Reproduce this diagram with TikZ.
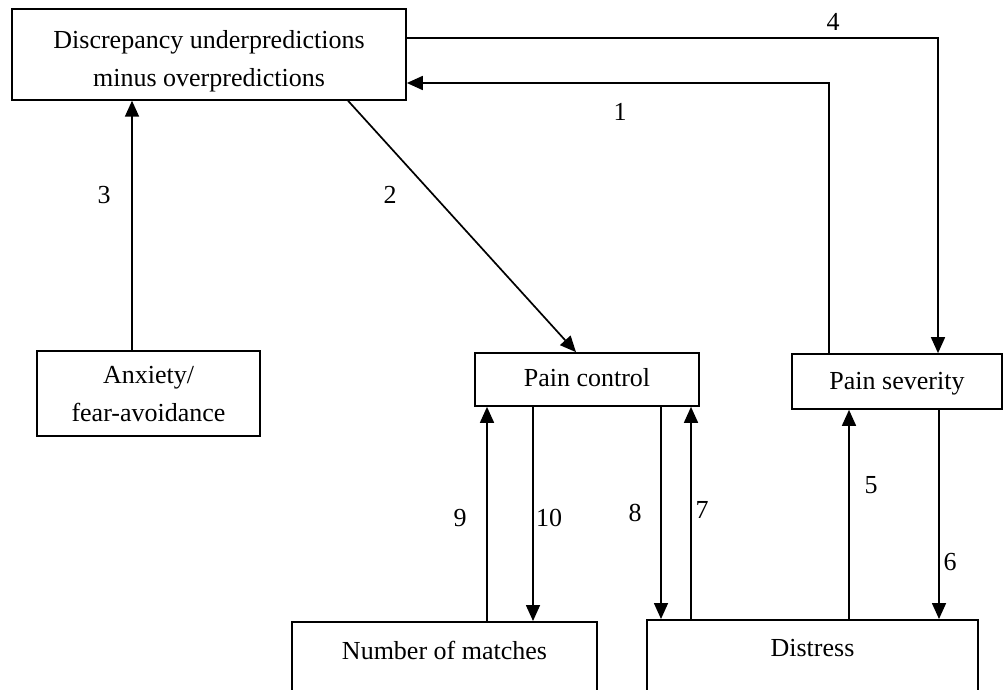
\documentclass[tikz,border=0pt]{standalone}
\usepackage{fontspec}
\setmainfont{Liberation Serif}
\usetikzlibrary{arrows.meta}
\begin{document}
\begin{tikzpicture}[x=1pt,y=-1pt,
  every node/.style={font=\fontsize{26}{38}\selectfont},
  box/.style={draw,line width=1.7pt,inner xsep=0pt,inner ysep=6pt,align=center},
  openbox/.style={draw,line width=1.7pt,inner xsep=0pt,anchor=north,text height=18pt,text depth=110pt},
  lbl/.style={inner sep=0pt},
  arr/.style={line width=1.7pt,-{Triangle[length=16pt,width=14pt]}}]
\clip (0,0) rectangle (1003,690);
\fill[white] (0,0) rectangle (1003,690);
% boxes
\node[box,minimum width=394pt,text height=72pt,text depth=7pt,anchor=north] (top) at (209,8)
  {Discrepancy underpredictions\\minus overpredictions};
\node[box,minimum width=223pt,text height=65pt,text depth=8pt,anchor=north] (an) at (148.5,350)
  {Anxiety/\\fear-avoidance};
\node[box,minimum width=224pt,text height=27pt,text depth=14pt] (pc) at (587,379.5) {Pain control};
\node[box,minimum width=210pt,text height=29pt,text depth=14pt] (ps) at (897,381.5) {Pain severity};
\node[openbox,minimum width=305pt,inner ysep=20pt] (nm) at (444.5,621) {Number of matches};
\node[openbox,minimum width=331pt,inner ysep=19pt] (ds) at (812.5,619) {Distress};
% guide coordinates
\coordinate (k4) at (938,38);
\coordinate (k1) at (829,83);
\coordinate (k2a) at (348,0);
\coordinate (k2b) at (576,0);
\coordinate (k3) at (132,0);
\coordinate (k9) at (487,0);
\coordinate (k10) at (533,0);
\coordinate (k8) at (661,0);
\coordinate (k7) at (691,0);
\coordinate (k5) at (849,0);
\coordinate (k6) at (939,0);
% connectors
\draw[arr] (k4 -| top.east) -- (k4) -- (k4 |- ps.north);
\draw[arr] (k1 |- ps.north) -- (k1) -- (k1 -| top.east);
\draw[arr] (k2a |- top.south) -- (k2b |- pc.north);
\draw[arr] (k3 |- an.north) -- (k3 |- top.south);
\draw[arr] (k9 |- nm.north) -- (k9 |- pc.south);
\draw[arr] (k10 |- pc.south) -- (k10 |- nm.north);
\draw[arr] (k8 |- pc.south) -- (k8 |- ds.north);
\draw[arr] (k7 |- ds.north) -- (k7 |- pc.south);
\draw[arr] (k5 |- ds.north) -- (k5 |- ps.south);
\draw[arr] (k6 |- ps.south) -- (k6 |- ds.north);
% labels
\node[lbl] (l4) at (833,22) {4};
\node[lbl] (l1) at (620,112) {1};
\node[lbl] (l2) at (390,195) {2};
\node[lbl] (l3) at (104,195) {3};
\node[lbl] (l9) at (460,518) {9};
\node[lbl] (l10) at (549,518) {10};
\node[lbl] (l8) at (635,513) {8};
\node[lbl] (l7) at (702,510) {7};
\node[lbl] (l5) at (871,485) {5};
\node[lbl] (l6) at (950,562) {6};
\end{tikzpicture}
\end{document}
